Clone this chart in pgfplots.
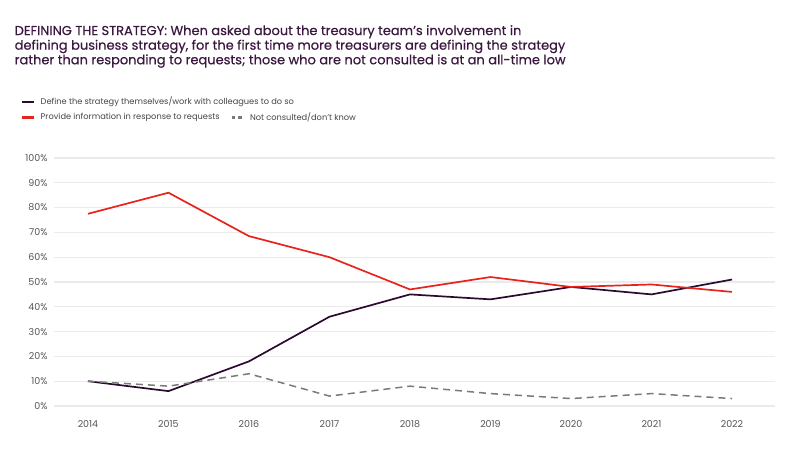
\documentclass[border=0pt]{standalone}
\usepackage{fontspec}
\setmainfont{Poppins}
\newfontfamily\titlefont[FakeBold=0.5]{Poppins}
\usepackage{pgfplots}
\pgfplotsset{compat=1.18}
\definecolor{titlec}{HTML}{3B1840}
\definecolor{defc}{HTML}{2A0A2E}
\definecolor{redc}{HTML}{E8231B}
\definecolor{greyc}{HTML}{7A7A7A}
\definecolor{gridc}{HTML}{EBEBEB}
\definecolor{tickc}{HTML}{555555}
\definecolor{legc}{HTML}{444444}
\begin{document}
\begin{tikzpicture}
\path[use as bounding box] (0bp,0bp) rectangle (792bp,456bp);
\node[anchor=north west, inner sep=0, align=left, text=titlec, font=\titlefont\fontsize{13bp}{14.6bp}\selectfont] at (14.5bp,431bp) {DEFINING THE STRATEGY: When asked about the treasury team’s involvement in\\defining business strategy, for the first time more treasurers are defining the strategy\\rather than responding to requests; those who are not consulted is at an all-time low};
\begin{axis}[at={(54bp,50bp)}, anchor=south west, scale only axis,
  width=721bp, height=248bp,
  xmin=2013.578, xmax=2022.534, ymin=0, ymax=100,
  clip=false,
  axis line style={draw=none}, tick style={draw=none},
  ymajorgrids, grid style={gridc, line width=1.2bp},
  ytick={0,10,...,100},
  yticklabel={\pgfmathprintnumber{\tick}\%},
  xtick={2014,2015,...,2022},
  /pgf/number format/1000 sep={},
  /pgf/number format/assume math mode=true,
  ticklabel style={font=\fontsize{9.5bp}{11bp}\selectfont, text=tickc},
  y tick label style={xshift=-3bp},
  x tick label style={yshift=-11bp},
  legend columns=2,
  legend cell align=left,
  legend image code/.code={\draw[#1, line width=2.4bp] (0bp,0bp) -- (12.6bp,0bp); \path (16bp,0bp);},
  legend style={at={(-0.0465,1.254)}, anchor=north west, draw=none, fill=none,
    font=\fontsize{8.25bp}{10bp}\selectfont, text=legc,
    /tikz/every even column/.append style={column sep=9bp},
    row sep=2.5bp, inner sep=0pt},
]
\addplot[defc, line width=1.7bp] coordinates {(2014,10) (2015,6) (2016,18) (2017,36) (2018,45) (2019,43) (2020,48) (2021,45) (2022,51)};
\addlegendentry{\makebox[0pt][l]{Define the strategy themselves/work with colleagues to do so}}
\addlegendimage{empty legend}\addlegendentry{}
\addplot[redc, line width=1.7bp] coordinates {(2014,77.5) (2015,86) (2016,68.5) (2017,60) (2018,47) (2019,52) (2020,48) (2021,49) (2022,46)};
\addlegendentry{Provide information in response to requests}
\addplot[greyc, line width=1.5bp, dash pattern=on 7bp off 5bp, forget plot] coordinates {(2014,10) (2015,8) (2016,13) (2017,4) (2018,8) (2019,5) (2020,3) (2021,5) (2022,3)};
\addlegendimage{greyc, dash pattern=on 3.5bp off 3bp}
\addlegendentry{Not consulted/don’t know}
\end{axis}
\end{tikzpicture}
\end{document}
